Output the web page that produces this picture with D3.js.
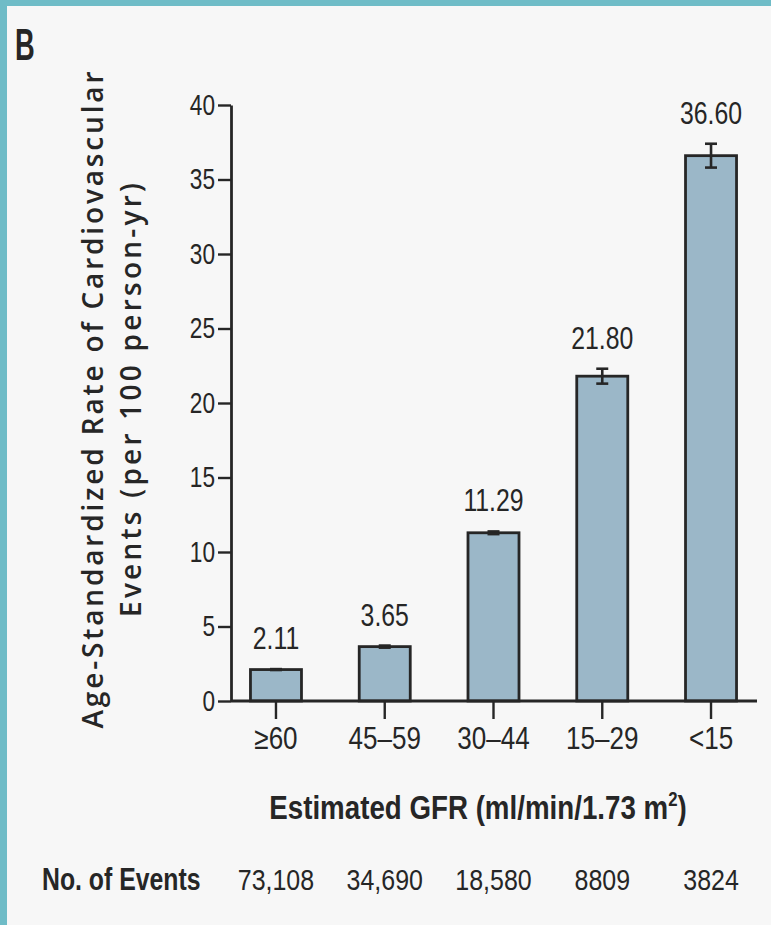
<!DOCTYPE html>
<html>
<head>
<meta charset="utf-8">
<script src="https://cdn.jsdelivr.net/npm/d3@7"></script>
<style>
  html, body { margin: 0; padding: 0; background: #f7f7f7; }
  svg { display: block; }
</style>
</head>
<body>
<script>
// ---- data ----
const categories = ["≥60", "45–59", "30–44", "15–29", "<15"];
const rates = [2.11, 3.65, 11.29, 21.80, 36.60];
const rateLabels = ["2.11", "3.65", "11.29", "21.80", "36.60"];
const ciLow = [2.08, 3.58, 11.20, 21.30, 35.80];
const ciHigh = [2.14, 3.72, 11.38, 22.30, 37.40];
const eventCounts = ["73,108", "34,690", "18,580", "8809", "3824"];
const yTicks = [0, 5, 10, 15, 20, 25, 30, 35, 40];

const W = 771, H = 925;
const font = "'Liberation Sans', Arial, sans-serif";
const ink = "#262626";

// squeeze a text selection horizontally (emulates a condensed face)
function condense(sel, f) {
  sel.each(function () {
    const w = this.getComputedTextLength();
    d3.select(this).attr("textLength", w * f).attr("lengthAdjust", "spacingAndGlyphs");
  });
}

const svg = d3.select("body").append("svg")
  .attr("width", W).attr("height", H);

svg.append("rect").attr("width", W).attr("height", H).attr("fill", "#f7f7f7");
svg.append("rect").attr("x", 0).attr("y", 0).attr("width", W).attr("height", 6).attr("fill", "#6fbcc7");
svg.append("rect").attr("x", 0).attr("y", 0).attr("width", 7).attr("height", H).attr("fill", "#6fbcc7");

// panel letter
svg.append("text")
  .attr("transform", "translate(15,60) scale(0.62,1)")
  .attr("font-family", font).attr("font-weight", "bold")
  .attr("font-size", 44).attr("fill", ink)
  .text("B");

const x = d3.scaleBand().domain(categories).range([231, 756])
  .paddingInner(0.531).paddingOuter(0.179);
const y = d3.scaleLinear().domain([0, 40]).range([701, 105]);

const data = categories.map((c, i) => ({
  c, v: rates[i], lbl: rateLabels[i], lo: ciLow[i], hi: ciHigh[i], n: eventCounts[i]
}));

// bars
svg.append("g").selectAll("rect").data(data).join("rect")
  .attr("x", d => x(d.c)).attr("width", x.bandwidth())
  .attr("y", d => y(d.v)).attr("height", d => y(0) - y(d.v))
  .attr("fill", "#9bb7c8").attr("stroke", ink).attr("stroke-width", 2.8);

// error bars
const eb = svg.append("g").attr("stroke", ink).attr("stroke-width", 2.6);
const cap = 6;
data.forEach(d => {
  const cx = x(d.c) + x.bandwidth() / 2;
  eb.append("line").attr("x1", cx).attr("x2", cx).attr("y1", y(d.hi)).attr("y2", y(d.lo));
  eb.append("line").attr("x1", cx - cap).attr("x2", cx + cap).attr("y1", y(d.hi)).attr("y2", y(d.hi));
  eb.append("line").attr("x1", cx - cap).attr("x2", cx + cap).attr("y1", y(d.lo)).attr("y2", y(d.lo));
});

// value labels
svg.append("g").selectAll("text").data(data).join("text")
  .attr("x", d => x(d.c) + x.bandwidth() / 2)
  .attr("y", d => y(d.hi) - 20)
  .attr("text-anchor", "middle")
  .attr("font-family", font).attr("font-size", 31).attr("fill", ink)
  .text(d => d.lbl)
  .call(condense, 0.8);

// y axis
const yAxis = svg.append("g").attr("transform", "translate(231,0)")
  .call(d3.axisLeft(y).tickValues(yTicks).tickSize(13).tickSizeOuter(0).tickPadding(3));
yAxis.select(".domain").attr("stroke", ink).attr("stroke-width", 2.8);
yAxis.selectAll(".tick line").attr("stroke", ink).attr("stroke-width", 2.4);
yAxis.selectAll(".tick text").attr("font-family", font).attr("font-size", 29).attr("fill", ink)
  .call(condense, 0.78);

// x axis
const xAxis = svg.append("g").attr("transform", "translate(0,701)")
  .call(d3.axisBottom(x).tickSize(18).tickSizeOuter(0).tickPadding(8));
xAxis.select(".domain").attr("stroke", ink).attr("stroke-width", 2.8)
  .attr("d", "M231,0H757");
xAxis.selectAll(".tick line").attr("stroke", ink).attr("stroke-width", 2.4);
xAxis.selectAll(".tick text").attr("font-family", font).attr("font-size", 31).attr("fill", ink)
  .attr("dy", "0.71em")
  .call(condense, 0.84);

// x title
const xt = svg.append("g").attr("transform", "translate(478,819) scale(0.84,1)")
  .append("text").attr("text-anchor", "middle")
  .attr("font-family", font).attr("font-weight", "bold").attr("font-size", 33).attr("fill", ink);
xt.append("tspan").text("Estimated GFR (ml/min/1.73 m");
xt.append("tspan").attr("font-size", 20).attr("dy", -13).text("2");
xt.append("tspan").attr("dy", 13).text(")");

// y title (two lines, rotated)
const yTitle = ["Age-Standardized Rate of Cardiovascular", "Events (per 100 person-yr)"];
const yTitleX = [103, 141];
const yTitleLen = [657, 434];
yTitle.forEach((t, i) => {
  svg.append("text")
    .attr("transform", `translate(${yTitleX[i]},400) rotate(-90)`)
    .attr("text-anchor", "middle")
    .attr("font-family", "'Open Sans', 'Noto Sans', sans-serif")
    .attr("font-weight", 600)
    .attr("font-size", 28).attr("fill", ink)
    .attr("textLength", yTitleLen[i]).attr("lengthAdjust", "spacing")
    .text(t);
});

// event counts row
svg.append("text").attr("x", 42).attr("y", 890)
  .attr("font-family", font).attr("font-weight", "bold").attr("font-size", 31).attr("fill", ink)
  .text("No. of Events")
  .call(condense, 0.8);
svg.append("g").selectAll("text").data(data).join("text")
  .attr("x", d => x(d.c) + x.bandwidth() / 2).attr("y", 890)
  .attr("text-anchor", "middle")
  .attr("font-family", font).attr("font-size", 29).attr("fill", ink)
  .text(d => d.n)
  .call(condense, 0.86);
</script>
</body>
</html>
